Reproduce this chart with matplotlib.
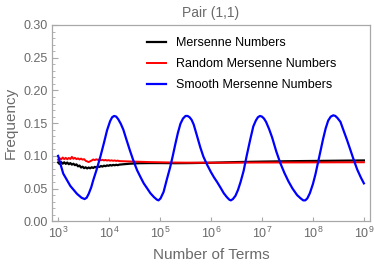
import matplotlib
matplotlib.use('Agg')
import matplotlib.pyplot as plt
import numpy as np
from matplotlib.ticker import MultipleLocator, FixedLocator, NullLocator, LogFormatterSciNotation

plt.rcParams['font.family'] = ['Liberation Sans', 'DejaVu Sans']
plt.rcParams['mathtext.fontset'] = 'custom'
plt.rcParams['mathtext.rm'] = 'Liberation Sans'

# exponents (log10 of number of terms) and frequencies
mers_exp = [3.00, 3.03, 3.06, 3.09, 3.12, 3.15, 3.18, 3.21, 3.24, 3.27, 3.30,
            3.33, 3.36, 3.39, 3.42, 3.45, 3.48, 3.51, 3.54, 3.57, 3.60, 3.63,
            3.66, 3.69, 3.72, 3.75, 3.78, 3.81, 3.84, 3.87, 3.90, 3.93, 3.96,
            3.99, 4.02, 4.05, 4.08, 4.11, 4.14, 4.17, 4.20,
            4.4, 4.6, 4.8, 5.0, 5.3, 5.6, 6.0, 6.5, 7.0, 7.5, 8.0, 8.5, 9.0]
mers_freq = [.0900, .0875, .0905, .0880, .0902, .0878, .0898, .0872, .0890, .0866, .0880,
             .0858, .0870, .0840, .0852, .0822, .0835, .0812, .0825, .0808, .0822, .0810,
             .0826, .0815, .0832, .0822, .0838, .0830, .0845, .0836, .0850, .0842, .0855,
             .0848, .0860, .0852, .0862, .0856, .0864, .0858, .0866,
             .0880, .0888, .0890, .0890, .0888, .0890, .0895, .0905, .0912, .0918, .0922, .0926, .0930]

rand_exp = mers_exp
rand_freq = [.0940, .0965, .0945, .0975, .0950, .0970, .0948, .0968, .0952, .0985, .0955,
             .0970, .0950, .0962, .0945, .0958, .0942, .0950, .0925, .0915, .0905, .0918,
             .0930, .0945, .0935, .0948, .0938, .0945, .0932, .0940, .0930, .0938, .0928,
             .0935, .0926, .0932, .0924, .0930, .0922, .0928, .0920,
             .0915, .0910, .0905, .0902, .0898, .0896, .0895, .0896, .0898, .0899, .0900, .0901, .0902]

smooth_exp = [3.00, 3.10, 3.24, 3.37, 3.46, 3.52, 3.56, 3.60, 3.65, 3.69, 3.76, 3.83,
              3.90, 3.96, 4.02, 4.06, 4.10, 4.14, 4.18, 4.23, 4.28, 4.34, 4.41, 4.48,
              4.55, 4.62, 4.68, 4.75, 4.81, 4.88, 4.94, 4.97, 5.01, 5.07, 5.13, 5.20,
              5.25, 5.30, 5.35, 5.40, 5.45, 5.50, 5.54, 5.58, 5.62, 5.66, 5.72, 5.79,
              5.85, 5.92, 6.00, 6.06, 6.12, 6.19, 6.25, 6.31, 6.36, 6.39, 6.43, 6.48,
              6.53, 6.58, 6.64, 6.70, 6.77, 6.83, 6.88, 6.92, 6.96, 7.00, 7.04, 7.08,
              7.14, 7.20, 7.28, 7.36, 7.44, 7.52, 7.60, 7.69, 7.76, 7.81, 7.85, 7.89,
              7.94, 8.00, 8.05, 8.10, 8.15, 8.20, 8.25, 8.30, 8.35, 8.40, 8.44, 8.48,
              8.54, 8.60, 8.67, 8.74, 8.80, 8.87, 8.94, 9.00]
smooth_freq = [.100, .073, .054, .042, .036, .034, .036, .042, .052, .063, .080, .099,
               .120, .139, .153, .159, .161, .160, .156, .149, .140, .125, .108, .092,
               .078, .067, .058, .050, .043, .037, .033, .032, .035, .045, .063, .083,
               .100, .118, .135, .149, .157, .161, .161, .159, .155, .148, .132, .113,
               .099, .087, .075, .067, .060, .051, .043, .037, .033, .032, .034, .039,
               .048, .060, .077, .100, .125, .145, .154, .159, .161, .160, .157, .152,
               .141, .128, .107, .089, .074, .061, .050, .040, .035, .032, .032, .035,
               .043, .057, .072, .090, .108, .126, .142, .154, .160, .162, .161, .158,
               .152, .139, .124, .108, .094, .079, .067, .058]

xticks = [1e3, 1e4, 1e5, 1e6, 1e7, 1e8, 1e9]

gris = '#6a6a6a'
marco = '#a8a8a8'

fig = plt.figure(figsize=(3.74, 2.64), dpi=100)
ax = fig.add_axes([52/374, 1 - 221.3/264, 318/374, 196.3/264])

ax.plot(10**np.array(mers_exp), mers_freq, color='black', lw=1.6, label='Mersenne Numbers')
ax.plot(10**np.array(rand_exp), rand_freq, color='red', lw=1.4, label='Random Mersenne Numbers')
ax.plot(10**np.array(smooth_exp), smooth_freq, color='blue', lw=1.6, label='Smooth Mersenne Numbers')

ax.set_xscale('log')
ax.set_xlim(10**2.88, 10**9.12)
ax.set_ylim(0, 0.30)
ax.xaxis.set_major_locator(FixedLocator(xticks))
ax.xaxis.set_major_formatter(LogFormatterSciNotation())
ax.xaxis.set_minor_locator(NullLocator())
ax.yaxis.set_major_locator(MultipleLocator(0.05))
ax.yaxis.set_minor_locator(MultipleLocator(0.01))
ax.yaxis.set_major_formatter(plt.FuncFormatter(lambda v, p: '%.2f' % v))

for s in ax.spines.values():
    s.set_color(marco)
    s.set_linewidth(0.9)

ax.tick_params(axis='both', which='both', direction='in', color=marco,
               labelcolor=gris, labelsize=9)
ax.tick_params(axis='y', which='major', length=4, pad=3)
ax.tick_params(axis='y', which='minor', length=2)
ax.tick_params(axis='x', which='major', length=3, pad=3)

ax.set_title('Pair (1,1)', color=gris, fontsize=10, pad=6)
ax.set_xlabel('Number of Terms', color=gris, fontsize=11, labelpad=5)
ax.set_ylabel('Frequency', color=gris, fontsize=11, labelpad=4)

ax.legend(loc='upper left', bbox_to_anchor=(0.30, 0.938), frameon=False,
          fontsize=9, handlelength=1.45, handletextpad=0.8, labelspacing=0.72,
          borderpad=0, borderaxespad=0)

fig.savefig('out.png', dpi=100)
